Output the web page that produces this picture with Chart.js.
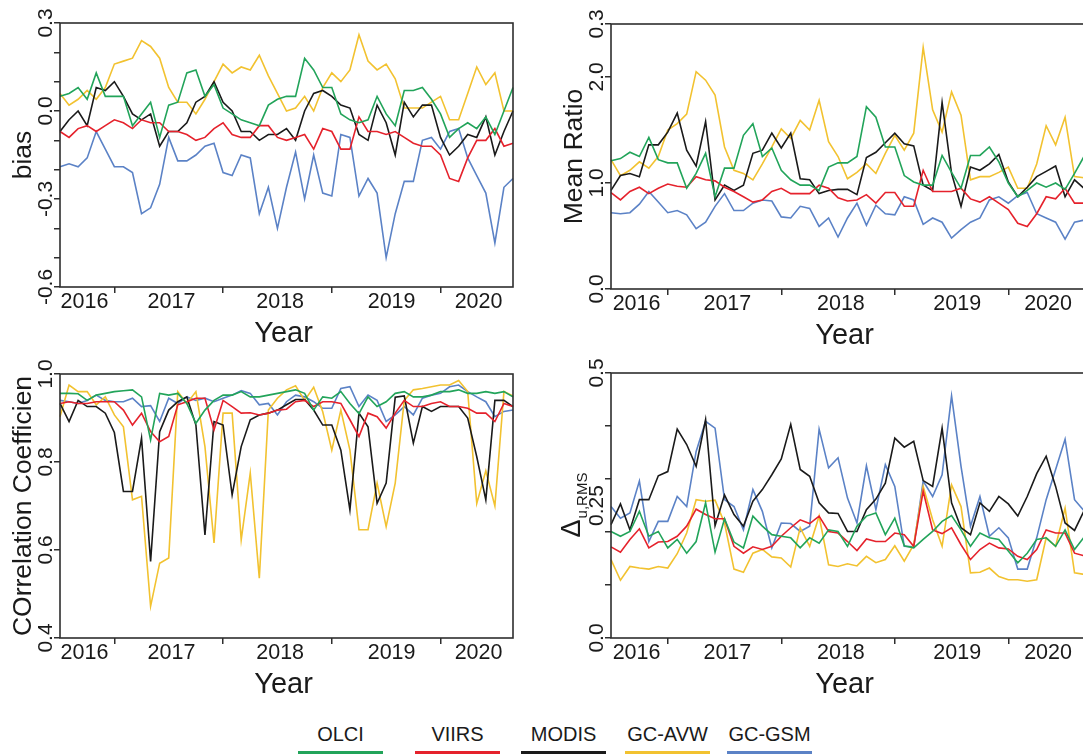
<!DOCTYPE html>
<html>
<head>
<meta charset="utf-8">
<script src="https://cdn.jsdelivr.net/npm/chart.js@4.4.1/dist/chart.umd.min.js"></script>
<style>
  html, body { margin: 0; padding: 0; background: #fff; width: 1083px; height: 754px; overflow: hidden; }
  canvas { position: absolute; }
  .item {
    position: absolute; top: 723px; width: 85px; text-align: center;
    font: 20px "Liberation Sans", Arial, sans-serif; color: #1a1a1a;
    line-height: 22px; padding-bottom: 6px; border-bottom: 3px solid #000;
  }
</style>
</head>
<body>
<canvas id="bias" width="545" height="350" style="left:0;top:0"></canvas>
<canvas id="ratio" width="560" height="350" style="left:545px;top:0"></canvas>
<canvas id="corr" width="545" height="354" style="left:0;top:350px"></canvas>
<canvas id="delta" width="560" height="354" style="left:545px;top:350px"></canvas>
<div id="legend"></div>

<script>
// monthly matchups, Jul 2016 - Sep 2020
const months = [
  '2016-07','2016-08','2016-09','2016-10','2016-11','2016-12',
  '2017-01','2017-02','2017-03','2017-04','2017-05','2017-06','2017-07','2017-08','2017-09','2017-10','2017-11','2017-12',
  '2018-01','2018-02','2018-03','2018-04','2018-05','2018-06','2018-07','2018-08','2018-09','2018-10','2018-11','2018-12',
  '2019-01','2019-02','2019-03','2019-04','2019-05','2019-06','2019-07','2019-08','2019-09','2019-10','2019-11','2019-12',
  '2020-01','2020-02','2020-03','2020-04','2020-05','2020-06','2020-07','2020-08','2020-09'
];
const yearNames = ['2016', '2017', '2018', '2019', '2020'];
const yearLabelPos = [2.7, 12.3, 24.3, 36.6, 46.2];
const yearTicks = ['2017-01', '2018-01', '2019-01', '2020-01'].map(m => months.indexOf(m));

const seriesNames = ['OLCI', 'VIIRS', 'MODIS', 'GC-AVW', 'GC-GSM'];
const seriesColors = ['#22a45a', '#e5222c', '#1a1a1a', '#f2c230', '#5b82c6'];

// bias
const biasOlci = [0.05,0.06,0.08,0.04,0.13,0.05,0.05,0.05,-0.05,-0.01,0.03,-0.09,0.02,0.03,0.13,0.14,0.05,0.09,0.01,-0.01,
  -0.03,-0.04,-0.05,0.02,0.04,0.05,0.05,0.18,0.14,0.08,0.08,-0.01,-0.03,-0.04,-0.03,0.05,-0.01,-0.05,0.07,0.07,
  0.08,0.04,-0.01,-0.09,-0.06,-0.04,-0.06,-0.02,-0.08,0.0,0.08];
const biasViirs = [-0.07,-0.09,-0.06,-0.05,-0.07,-0.05,-0.03,-0.04,-0.06,-0.03,-0.04,-0.04,-0.07,-0.07,-0.08,-0.10,-0.09,-0.06,-0.04,-0.08,
  -0.09,-0.09,-0.05,-0.05,-0.09,-0.10,-0.09,-0.08,-0.13,-0.06,-0.07,-0.13,-0.13,-0.02,-0.07,-0.07,-0.08,-0.07,-0.09,-0.11,
  -0.12,-0.12,-0.15,-0.23,-0.24,-0.16,-0.10,-0.10,-0.06,-0.12,-0.11];
const biasModis = [-0.07,-0.03,0.0,-0.05,0.08,0.07,0.10,0.05,-0.01,-0.03,-0.01,-0.12,-0.07,-0.07,-0.04,0.03,0.05,0.10,0.03,0.0,
  -0.07,-0.07,-0.10,-0.08,-0.08,-0.06,-0.10,0.0,0.06,0.07,0.05,0.02,0.01,-0.08,-0.10,0.02,-0.04,-0.15,0.03,-0.02,
  0.02,0.02,-0.09,-0.15,-0.12,-0.08,-0.09,-0.02,-0.15,-0.07,0.0];
const biasAvw = [0.06,0.02,0.04,0.07,0.04,0.08,0.16,0.17,0.18,0.24,0.22,0.18,0.08,0.03,0.03,-0.01,0.04,0.10,0.16,0.13,
  0.15,0.14,0.19,0.12,0.06,0.0,0.01,0.05,0.0,0.08,0.13,0.10,0.14,0.26,0.17,0.14,0.16,0.11,0.01,0.01,
  0.01,0.03,0.05,-0.03,-0.03,0.06,0.15,0.09,0.13,0.0,0.0];
const biasGsm = [-0.19,-0.18,-0.19,-0.16,-0.07,-0.13,-0.19,-0.19,-0.21,-0.35,-0.33,-0.25,-0.09,-0.17,-0.17,-0.15,-0.12,-0.11,-0.21,-0.22,
  -0.15,-0.16,-0.35,-0.26,-0.40,-0.26,-0.14,-0.30,-0.15,-0.28,-0.29,-0.08,-0.09,-0.29,-0.23,-0.28,-0.50,-0.35,-0.24,-0.24,
  -0.10,-0.09,-0.13,-0.07,-0.06,-0.16,-0.22,-0.28,-0.45,-0.26,-0.23];

// mean ratio
const ratioOlci = [1.21,1.23,1.29,1.25,1.43,1.22,1.19,1.19,0.95,1.09,1.28,0.87,1.14,1.14,1.45,1.56,1.25,1.33,1.12,1.03,
  0.98,0.98,0.93,1.15,1.19,1.19,1.25,1.72,1.62,1.34,1.34,1.07,1.01,0.98,0.98,1.26,1.10,0.95,1.26,1.26,
  1.34,1.20,1.00,0.87,0.93,1.00,0.96,1.00,0.94,1.09,1.25];
const ratioViirs = [0.91,0.84,0.92,0.96,0.90,0.95,0.99,0.97,0.96,1.06,1.03,1.02,0.96,0.92,0.87,0.82,0.84,0.92,0.95,0.90,
  0.90,0.90,0.98,0.95,0.86,0.83,0.84,0.89,0.81,0.91,0.91,0.78,0.78,1.12,0.92,0.92,0.92,0.95,0.85,0.82,
  0.87,0.81,0.75,0.62,0.59,0.71,0.87,0.85,0.95,0.81,0.81];
const ratioModis = [0.93,1.07,1.09,1.06,1.36,1.36,1.48,1.66,1.31,1.16,1.58,0.84,0.98,0.93,0.98,1.28,1.31,1.47,1.33,1.47,
  1.04,1.03,0.90,0.93,0.94,0.94,0.89,1.24,1.29,1.38,1.47,1.37,1.35,0.98,0.93,1.76,1.09,0.78,1.15,1.12,
  1.18,1.27,1.01,0.87,0.96,1.06,1.11,1.16,0.87,1.03,0.95];
const ratioAvw = [1.22,1.07,1.12,1.20,1.14,1.25,1.50,1.56,1.65,2.05,1.97,1.83,1.34,1.12,1.09,1.03,1.18,1.34,1.51,1.42,
  1.59,1.50,1.78,1.39,1.25,1.04,1.10,1.18,1.09,1.28,1.45,1.31,1.47,2.28,1.69,1.48,1.86,1.64,1.03,1.06,
  1.06,1.10,1.15,0.95,0.95,1.18,1.54,1.36,1.62,1.06,1.05];
const ratioGsm = [0.72,0.71,0.72,0.80,0.92,0.82,0.72,0.74,0.70,0.57,0.63,0.78,0.90,0.74,0.74,0.81,0.84,0.83,0.68,0.67,
  0.78,0.76,0.59,0.67,0.49,0.67,0.81,0.60,0.79,0.71,0.70,0.87,0.84,0.61,0.67,0.63,0.48,0.56,0.63,0.67,
  0.84,0.87,0.81,0.88,0.91,0.71,0.67,0.63,0.47,0.63,0.65];

// correlation coefficient
const corrOlci = [0.956,0.956,0.955,0.940,0.952,0.956,0.960,0.962,0.964,0.948,0.850,0.956,0.952,0.956,0.933,0.888,0.918,0.940,0.952,0.952,
  0.960,0.948,0.948,0.952,0.956,0.960,0.964,0.956,0.918,0.948,0.945,0.960,0.933,0.910,0.948,0.926,0.937,0.956,0.960,0.948,
  0.948,0.952,0.960,0.960,0.964,0.956,0.956,0.960,0.956,0.960,0.948];
const corrViirs = [0.933,0.937,0.933,0.933,0.937,0.937,0.937,0.918,0.884,0.911,0.869,0.846,0.858,0.930,0.937,0.945,0.945,0.873,0.940,0.926,
  0.911,0.912,0.907,0.911,0.918,0.920,0.937,0.940,0.926,0.937,0.937,0.933,0.896,0.858,0.911,0.903,0.877,0.911,0.940,0.926,
  0.926,0.933,0.937,0.926,0.926,0.922,0.911,0.911,0.892,0.933,0.926];
const corrModis = [0.933,0.892,0.940,0.926,0.926,0.911,0.867,0.733,0.733,0.854,0.574,0.869,0.918,0.937,0.948,0.884,0.634,0.892,0.884,0.725,
  0.835,0.896,0.907,0.911,0.918,0.930,0.942,0.942,0.918,0.884,0.884,0.827,0.691,0.911,0.880,0.706,0.752,0.947,0.950,0.843,
  0.926,0.915,0.926,0.926,0.926,0.900,0.812,0.714,0.940,0.940,0.926];
const corrAvw = [0.903,0.975,0.960,0.960,0.930,0.948,0.907,0.880,0.714,0.722,0.472,0.570,0.582,0.960,0.933,0.960,0.835,0.616,0.911,0.911,
  0.623,0.775,0.536,0.918,0.945,0.964,0.973,0.940,0.970,0.914,0.827,0.918,0.827,0.646,0.646,0.752,0.653,0.752,0.940,0.964,
  0.967,0.971,0.975,0.975,0.985,0.960,0.706,0.780,0.700,0.960,0.950];
const corrGsm = [0.940,0.937,0.933,0.940,0.952,0.940,0.937,0.937,0.945,0.926,0.928,0.892,0.945,0.933,0.948,0.940,0.945,0.937,0.945,0.952,
  0.962,0.956,0.930,0.933,0.907,0.937,0.952,0.948,0.937,0.922,0.922,0.967,0.971,0.926,0.952,0.940,0.892,0.907,0.926,0.907,
  0.945,0.952,0.956,0.971,0.975,0.960,0.948,0.937,0.903,0.915,0.918];

// delta u,RMS
const deltaOlci = [0.201,0.192,0.201,0.239,0.192,0.201,0.170,0.186,0.160,0.182,0.255,0.162,0.225,0.181,0.170,0.230,0.211,0.195,0.192,0.189,
  0.170,0.189,0.179,0.204,0.201,0.173,0.211,0.230,0.236,0.195,0.226,0.174,0.170,0.186,0.201,0.220,0.231,0.204,0.173,0.198,
  0.189,0.186,0.164,0.142,0.160,0.186,0.189,0.173,0.204,0.167,0.190];
const deltaViirs = [0.172,0.162,0.186,0.206,0.170,0.181,0.182,0.192,0.211,0.243,0.233,0.225,0.225,0.173,0.160,0.172,0.167,0.173,0.192,0.208,
  0.223,0.216,0.230,0.201,0.198,0.182,0.165,0.187,0.182,0.182,0.198,0.195,0.173,0.277,0.204,0.197,0.208,0.176,0.148,0.167,
  0.179,0.170,0.168,0.154,0.148,0.167,0.204,0.198,0.198,0.160,0.155];
const deltaModis = [0.214,0.253,0.204,0.261,0.261,0.306,0.314,0.394,0.365,0.324,0.412,0.212,0.270,0.233,0.211,0.258,0.280,0.308,0.338,0.403,
  0.318,0.305,0.255,0.236,0.235,0.201,0.201,0.242,0.262,0.292,0.377,0.360,0.371,0.297,0.286,0.396,0.255,0.208,0.195,0.255,
  0.239,0.267,0.253,0.230,0.267,0.310,0.343,0.286,0.217,0.203,0.240];
const deltaAvw = [0.148,0.109,0.135,0.132,0.130,0.135,0.132,0.159,0.198,0.261,0.258,0.260,0.217,0.130,0.124,0.160,0.167,0.153,0.151,0.134,
  0.208,0.173,0.230,0.138,0.135,0.140,0.136,0.154,0.142,0.148,0.174,0.145,0.176,0.286,0.223,0.173,0.289,0.248,0.123,0.124,
  0.132,0.116,0.110,0.110,0.107,0.110,0.189,0.173,0.245,0.123,0.120];
const deltaGsm = [0.248,0.226,0.236,0.296,0.182,0.220,0.220,0.267,0.248,0.352,0.409,0.396,0.261,0.248,0.204,0.280,0.239,0.170,0.217,0.216,
  0.201,0.211,0.394,0.321,0.340,0.264,0.217,0.325,0.242,0.327,0.286,0.173,0.172,0.296,0.267,0.308,0.457,0.324,0.211,0.267,
  0.192,0.208,0.189,0.130,0.130,0.189,0.261,0.318,0.375,0.261,0.240];

const FONT = '"Liberation Sans", Arial, Helvetica, sans-serif';
const INK = '#1a1a1a';
const FRAME = '#2e2e2e';

const panels = {
  bias: {
    series: [biasOlci, biasViirs, biasModis, biasAvw, biasGsm],
    yMin: -0.6, yMax: 0.3,
    yTicks: [-0.6, -0.5, -0.4, -0.3, -0.2, -0.1, 0, 0.1, 0.2, 0.3],
    yLabelVals: [-0.6, -0.3, 0, 0.3], yLabels: ['-0.6', '-0.3', '0.0', '0.3'],
    title: 'bias',
    box: { padTop: 23, padRight: 32, axisW: 60, axisH: 63 }
  },
  ratio: {
    series: [ratioOlci, ratioViirs, ratioModis, ratioAvw, ratioGsm],
    yMin: 0, yMax: 2.5,
    yTicks: [0, 1, 2, 2.5],
    yLabelVals: [0, 1, 2, 2.5], yLabels: ['0.0', '1.0', '2.0', '0.3'],
    title: 'Mean Ratio',
    box: { padTop: 24, padRight: 21, axisW: 66, axisH: 61 }
  },
  corr: {
    series: [corrOlci, corrViirs, corrModis, corrAvw, corrGsm],
    yMin: 0.4, yMax: 1.0,
    yTicks: [0.4, 0.6, 0.8, 1.0],
    yLabelVals: [0.4, 0.6, 0.8, 1.0], yLabels: ['0.4', '0.6', '0.8', '1.0'],
    title: 'COrrelation Coefficien',
    box: { padTop: 24, padRight: 32, axisW: 60, axisH: 66 }
  },
  delta: {
    series: [deltaOlci, deltaViirs, deltaModis, deltaAvw, deltaGsm],
    yMin: 0, yMax: 0.5,
    yTicks: [0, 0.1, 0.2, 0.3, 0.4, 0.5],
    yLabelVals: [0, 0.25, 0.5], yLabels: ['0.0', '0.25', '0.5'],
    title: null,
    box: { padTop: 23, padRight: 21, axisW: 66, axisH: 66 }
  }
};

// frame, turned tick labels and axis titles
const panelText = {
  id: 'panelText',
  afterDraw(chart) {
    const p = panels[chart.canvas.id];
    const { ctx, chartArea: a } = chart;
    const x = chart.scales.x, y = chart.scales.y;
    ctx.save();
    ctx.strokeStyle = FRAME;
    ctx.lineWidth = 1.6;
    ctx.strokeRect(a.left, a.top, a.right - a.left, a.bottom - a.top);

    ctx.fillStyle = INK;
    ctx.textAlign = 'center';
    ctx.textBaseline = 'middle';
    ctx.font = '21px ' + FONT;
    p.yLabelVals.forEach((v, k) => {
      ctx.save();
      ctx.translate(a.left - 14, y.getPixelForValue(v));
      ctx.rotate(-Math.PI / 2);
      ctx.fillText(p.yLabels[k], 0, 0);
      ctx.restore();
    });

    ctx.textBaseline = 'alphabetic';
    ctx.font = '21.5px ' + FONT;
    yearNames.forEach((t, k) => {
      ctx.fillText(t, x.getPixelForValue(yearLabelPos[k]), a.bottom + 21);
    });
    ctx.font = '29px ' + FONT;
    ctx.fillText('Year', (a.left + a.right) / 2 - 3, a.bottom + 55);

    const midY = (a.top + a.bottom) / 2;
    if (p.title) {
      ctx.save();
      ctx.translate(a.left - 36, midY);
      ctx.rotate(-Math.PI / 2);
      ctx.textBaseline = 'middle';
      ctx.font = '26.5px ' + FONT;
      ctx.fillText(p.title, 0, 0);
      ctx.restore();
    } else {
      // Δ with subscript u,RMS
      ctx.save();
      ctx.translate(a.left - 31, midY);
      ctx.rotate(-Math.PI / 2);
      ctx.textAlign = 'left';
      ctx.font = '27px ' + FONT;
      const w1 = ctx.measureText('Δ').width;
      ctx.font = '15px ' + FONT;
      const w2 = ctx.measureText('u,RMS').width;
      const x0 = -(w1 + w2) / 2;
      ctx.font = '27px ' + FONT;
      ctx.fillText('Δ', x0, 0);
      ctx.font = '15px ' + FONT;
      ctx.fillText('u,RMS', x0 + w1 + 1, 7);
      ctx.restore();
    }
    ctx.restore();
  }
};

const makePanel = (id) => {
  const p = panels[id];
  const b = p.box;
  const gridOpts = {
    drawOnChartArea: false,
    drawTicks: true,
    tickLength: 6,
    tickWidth: 1.5,
    tickColor: FRAME,
    lineWidth: 1.5
  };
  return new Chart(document.getElementById(id), {
    type: 'line',
    data: {
      labels: months,
      datasets: seriesNames.map((name, k) => ({
        label: name,
        data: p.series[k],
        borderColor: seriesColors[k],
        backgroundColor: seriesColors[k],
        borderWidth: 1.6,
        pointRadius: 0,
        tension: 0,
        fill: false
      }))
    },
    options: {
      responsive: false,
      animation: false,
      events: [],
      layout: { padding: { top: b.padTop, right: b.padRight, left: 0, bottom: 0 } },
      plugins: { legend: { display: false }, tooltip: { enabled: false } },
      scales: {
        x: {
          type: 'category',
          grid: gridOpts,
          border: { display: false },
          ticks: { display: false },
          afterBuildTicks: s => { s.ticks = yearTicks.map(v => ({ value: v })); },
          afterFit: s => { s.height = b.axisH; }
        },
        y: {
          type: 'linear',
          min: p.yMin,
          max: p.yMax,
          grid: gridOpts,
          border: { display: false },
          ticks: { display: false },
          afterBuildTicks: s => { s.ticks = p.yTicks.map(v => ({ value: v })); },
          afterFit: s => { s.width = b.axisW; }
        }
      }
    },
    plugins: [panelText]
  });
};

['bias', 'ratio', 'corr', 'delta'].forEach(makePanel);

// legend: name over a coloured bar
const legendLeft = [298, 415, 521, 625, 727];
const legend = document.getElementById('legend');
seriesNames.forEach((name, k) => {
  const d = document.createElement('div');
  d.className = 'item';
  d.style.left = legendLeft[k] + 'px';
  d.style.borderBottomColor = seriesColors[k];
  d.textContent = name;
  legend.appendChild(d);
});
</script>
</body>
</html>
